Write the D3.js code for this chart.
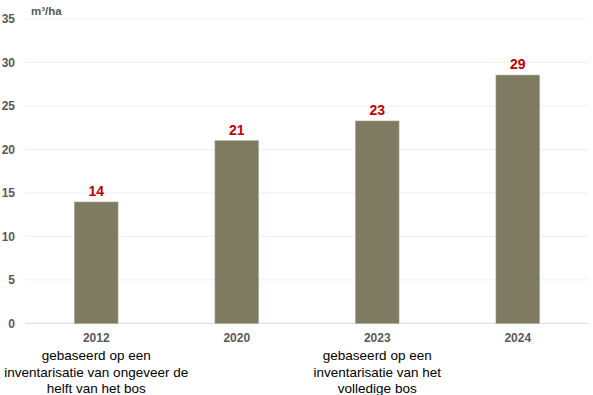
<!DOCTYPE html>
<html><head><meta charset="utf-8">
<script src="https://cdn.jsdelivr.net/npm/d3@7"></script>
<style>body{margin:0;background:#fff;font-family:"Liberation Sans",Arial,sans-serif}</style>
</head><body><svg id="c" width="593" height="395"></svg>
<script>
const categories = ["2012","2020","2023","2024"];
const values = [13.95, 21.0, 23.27, 28.55];
const valueLabels = ["14","21","23","29"];
const notes = [
  ["gebaseerd op een","inventarisatie van ongeveer de","helft van het bos"],
  [],
  ["gebaseerd op een","inventarisatie van het","volledige bos"],
  []
];
const yTicks = [0,5,10,15,20,25,30,35];
const unit = "m³/ha";

const svg = d3.select("#c");
const x = d3.scaleBand().domain(categories).range([26, 588]).paddingInner(0.69).paddingOuter(0.345);
const y = d3.scaleLinear().domain([0,35]).range([323.3, 19]);

// gridlines
svg.append("g").selectAll("line").data(yTicks).join("line")
  .attr("x1", 25).attr("x2", 588)
  .attr("y1", d=>y(d)).attr("y2", d=>y(d))
  .attr("stroke", d=> d===0 ? "#d9d9d9" : "#efefef").attr("stroke-width",1);

// y axis labels
const yAxis = d3.axisLeft(y).tickValues(yTicks).tickSize(0).tickPadding(0);
const gy = svg.append("g").attr("transform","translate(15,0)").call(yAxis);
gy.select(".domain").remove();
gy.selectAll("text").attr("font-size",12).attr("font-weight","bold").attr("fill","#595959")
  .attr("font-family","Liberation Sans, Arial, sans-serif");

svg.append("text").attr("x",31).attr("y",15).text(unit)
  .attr("font-size",11.5).attr("font-weight","bold").attr("fill","#595959");

// bars
svg.append("g").selectAll("rect").data(values).join("rect")
  .attr("x",(d,i)=>x(categories[i])).attr("width",x.bandwidth())
  .attr("y",d=>y(d)).attr("height",d=>y(0)-y(d))
  .attr("fill","#7f7a62").attr("stroke","#a6a18c").attr("stroke-width",0.6);

// value labels
svg.append("g").selectAll("text").data(values).join("text")
  .attr("x",(d,i)=>x(categories[i])+x.bandwidth()/2).attr("y",d=>y(d)-6)
  .attr("text-anchor","middle").attr("font-size",14).attr("font-weight","bold").attr("fill","#c00000")
  .text((d,i)=>valueLabels[i]);

// x axis labels
const xAxis = d3.axisBottom(x).tickSize(0).tickPadding(0);
const gx = svg.append("g").attr("transform","translate(0,333)").call(xAxis);
gx.select(".domain").remove();
gx.selectAll("text").attr("font-size",12).attr("font-weight","bold").attr("fill","#595959")
  .attr("font-family","Liberation Sans, Arial, sans-serif");

// notes
categories.forEach((c,i)=>{
  notes[i].forEach((line,j)=>{
    svg.append("text").attr("x",x(c)+x.bandwidth()/2).attr("y",360+j*16.5)
      .attr("text-anchor","middle").attr("font-size",13.5).attr("fill","#000").text(line);
  });
});
</script></body></html>
